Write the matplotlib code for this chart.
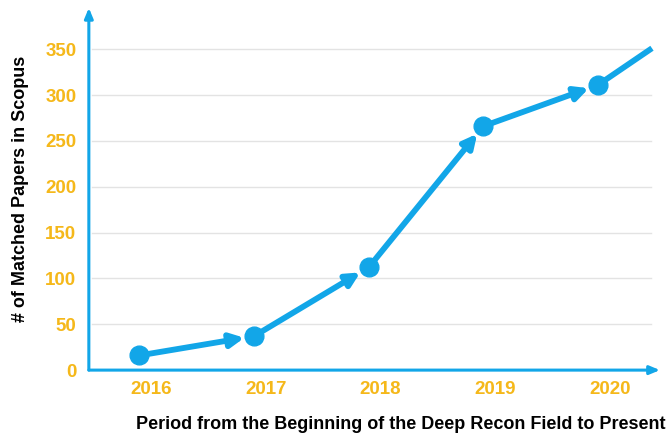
import matplotlib.pyplot as plt
import matplotlib.transforms as mtransforms

years = [2016, 2017, 2018, 2019, 2020]
papers = [16, 37, 112, 266, 311]
# line keeps rising after the last marker
tail_x = [2020, 2020.47]
tail_y = [311, 351]
yticks = [0, 50, 100, 150, 200, 250, 300, 350]

blue = '#12A6E8'
gold = '#F5B81A'

plt.rcParams['font.family'] = ['Liberation Sans', 'DejaVu Sans']

fig = plt.figure(figsize=(6.68, 4.38), dpi=100)
ax = fig.add_axes([0.133, 0.155, 0.855, 0.827])
ax.set_xlim(2015.56, 2020.54)
ax.set_ylim(0, 395)

for s in ax.spines.values():
    s.set_visible(False)

# grid
for t in yticks[1:]:
    ax.axhline(t, xmin=0.005, xmax=0.985, color='#E3E3E3', lw=1, zorder=0)

# axes with arrow heads
ax.annotate('', xy=(0, 1), xytext=(0, 0), xycoords='axes fraction',
            arrowprops=dict(arrowstyle='-|>,head_width=0.25,head_length=0.6',
                            color=blue, lw=2.2, shrinkA=0, shrinkB=0))
ax.annotate('', xy=(1, 0), xytext=(0, 0), xycoords='axes fraction',
            arrowprops=dict(arrowstyle='-|>,head_width=0.25,head_length=0.6',
                            color=blue, lw=2.2, shrinkA=0, shrinkB=0))

# segments with arrows toward each point
for i in range(len(years) - 1):
    ax.annotate('', xy=(years[i + 1], papers[i + 1]), xytext=(years[i], papers[i]),
                arrowprops=dict(arrowstyle='-|>,head_width=0.4,head_length=0.8',
                                color=blue, lw=4.2, shrinkA=0, shrinkB=7))
ax.plot(tail_x, tail_y, color=blue, lw=4.2, solid_capstyle='butt')
ax.plot(years, papers, 'o', color=blue, ms=13.5, zorder=5)

ax.set_xticks(years)
ax.set_xticklabels([str(y) for y in years])
ax.set_yticks(yticks)
ax.tick_params(length=0, labelsize=13.5, labelcolor=gold)
ax.tick_params(axis='y', pad=9)
ax.tick_params(axis='x', pad=8)
for lab in ax.get_xticklabels() + ax.get_yticklabels():
    lab.set_fontweight('bold')
off = mtransforms.ScaledTranslation(12 / 100, 0, fig.dpi_scale_trans)
for lab in ax.get_xticklabels():
    lab.set_transform(lab.get_transform() + off)

ax.set_ylabel('# of Matched Papers in Scopus', fontsize=13, fontweight='bold',
              color='black', labelpad=12)
fig.text(0.997, 0.03, 'Period from the Beginning of the Deep Recon Field to Present',
         ha='right', va='center', fontsize=13.0, fontweight='bold', color='black')

fig.savefig('out.png', dpi=100)
